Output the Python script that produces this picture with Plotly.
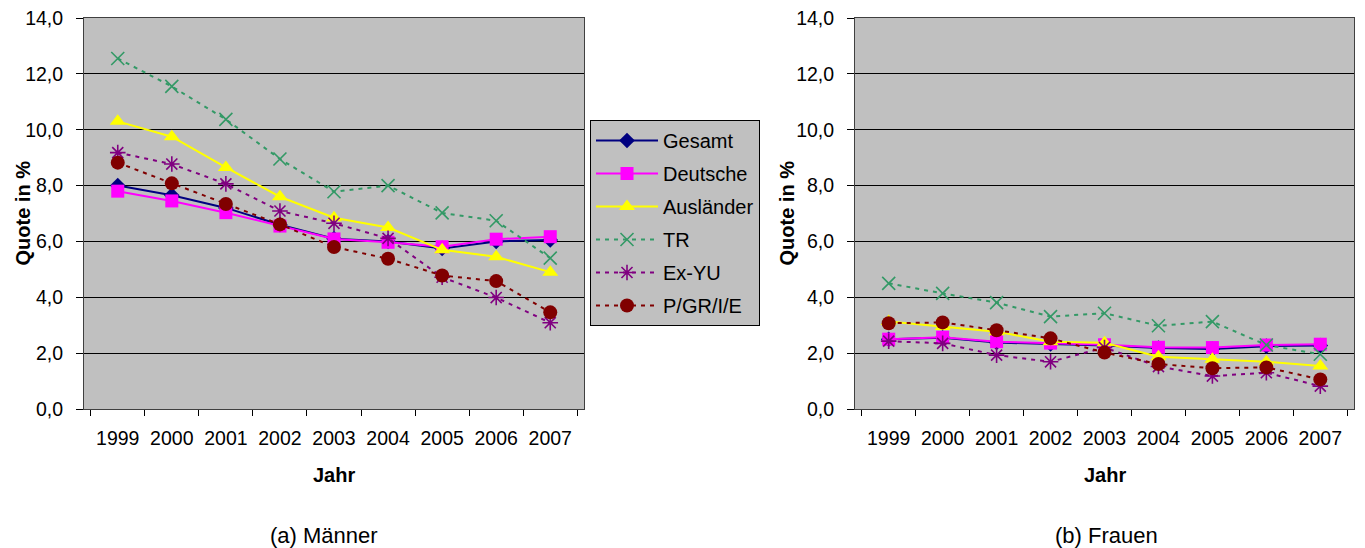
import plotly.graph_objects as go

years = ["1999", "2000", "2001", "2002", "2003", "2004", "2005", "2006", "2007"]
series_names = ["Gesamt", "Deutsche", "Ausländer", "TR", "Ex-YU", "P/GR/I/E"]

# Männer
m_gesamt = [8.0, 7.65, 7.2, 6.6, 6.1, 6.0, 5.75, 6.0, 6.05]
m_deutsche = [7.8, 7.45, 7.03, 6.55, 6.09, 5.97, 5.81, 6.08, 6.17]
m_auslaender = [10.3, 9.75, 8.65, 7.6, 6.85, 6.5, 5.7, 5.45, 4.9]
m_tr = [12.55, 11.55, 10.37, 8.95, 7.78, 8.0, 7.02, 6.74, 5.4]
m_exyu = [9.18, 8.77, 8.06, 7.09, 6.65, 6.11, 4.72, 3.99, 3.09]
m_pgrie = [8.82, 8.08, 7.34, 6.61, 5.8, 5.38, 4.78, 4.58, 3.46]

# Frauen
f_gesamt = [2.5, 2.55, 2.38, 2.33, 2.27, 2.18, 2.15, 2.25, 2.27]
f_deutsche = [2.5, 2.57, 2.41, 2.36, 2.3, 2.21, 2.2, 2.29, 2.32]
f_auslaender = [3.13, 2.95, 2.77, 2.41, 2.37, 1.87, 1.78, 1.69, 1.54]
f_tr = [4.5, 4.14, 3.81, 3.31, 3.43, 2.98, 3.13, 2.29, 1.96]
f_exyu = [2.43, 2.35, 1.93, 1.69, 2.2, 1.52, 1.18, 1.3, 0.82]
f_pgrie = [3.07, 3.1, 2.82, 2.53, 2.02, 1.61, 1.46, 1.49, 1.06]

subtitles = ["(a) Männer", "(b) Frauen"]
x_title = "Jahr"
y_title = "Quote in %"

styles = [
    dict(color="#000080", symbol="diamond", size=12, dash="solid"),
    dict(color="#FF00FF", symbol="square", size=13, dash="solid"),
    dict(color="#FFFF00", symbol="triangle-up", size=14, dash="solid"),
    dict(color="#339966", symbol="x-thin-open", size=13, dash="4px,5px"),
    dict(color="#800080", symbol="asterisk-open", size=13, dash="4px,5px"),
    dict(color="#800000", symbol="circle", size=14, dash="4px,5px"),
]

font_family = "Liberation Sans, Arial, sans-serif"
TICK_SIZE = 19.5
TITLE_SIZE = 20

fig = go.Figure()

men = [m_gesamt, m_deutsche, m_auslaender, m_tr, m_exyu, m_pgrie]
women = [f_gesamt, f_deutsche, f_auslaender, f_tr, f_exyu, f_pgrie]

for panel, (data, xa, ya) in enumerate([(men, "x", "y"), (women, "x2", "y2")]):
    for name, vals, st in zip(series_names, data, styles):
        mk = dict(symbol=st["symbol"], size=st["size"], color=st["color"])
        if st["symbol"].endswith("-open"):
            mk["line"] = dict(color=st["color"], width=1.6)
        fig.add_trace(go.Scatter(
            x=years, y=vals, name=name, mode="lines+markers",
            line=dict(color=st["color"], width=2, dash=st["dash"]),
            marker=mk, xaxis=xa, yaxis=ya,
            legendgroup=name, showlegend=(panel == 0),
        ))

# page body has an 8px margin; work in screen pixels and convert
OFF = 8
W, H = 1365 - OFF, 548 - OFF


def px(x):
    return (x - OFF) / W


def py(y):
    return 1 - (y - OFF) / H


ydom = [py(409), py(18)]
xdom1 = [px(84), px(584)]
xdom2 = [px(855), px(1354)]

xcommon = dict(type="category", tickson="boundaries", ticks="outside", ticklen=6,
               tickcolor="black", showgrid=False, showline=True, mirror=True,
               linecolor="#404040", linewidth=1, automargin=False,
               ticklabelstandoff=12, ticklabeloverflow="allow",
               tickfont=dict(size=TICK_SIZE, color="black", family=font_family))
ycommon = dict(range=[0, 14], dtick=2, tick0=0, tickformat=".1f", ticks="outside",
               ticklen=7, tickcolor="black", showgrid=True, gridcolor="black",
               gridwidth=1, zeroline=False, showline=True, mirror=True,
               linecolor="#404040", linewidth=1, ticklabelstandoff=9,
               automargin=False, ticklabeloverflow="allow",
               tickfont=dict(size=TICK_SIZE, color="black", family=font_family))

ann = []
for dom, sub, ytx, subx in [(xdom1, subtitles[0], 22, 324), (xdom2, subtitles[1], 786, 1106)]:
    xc = (dom[0] + dom[1]) / 2
    ann.append(dict(text=sub, x=px(subx), y=py(535), xref="paper", yref="paper",
                    showarrow=False, xanchor="center", yanchor="middle",
                    font=dict(size=22, color="black", family=font_family)))
    ann.append(dict(text="<b>" + x_title + "</b>", x=xc, y=py(475),
                    xref="paper", yref="paper", showarrow=False,
                    xanchor="center", yanchor="middle",
                    font=dict(size=TITLE_SIZE, color="black", family=font_family)))
    ann.append(dict(text="<b>" + y_title + "</b>", x=px(ytx),
                    y=(ydom[0] + ydom[1]) / 2, xref="paper", yref="paper",
                    showarrow=False, textangle=-90, xanchor="center", yanchor="middle",
                    font=dict(size=TITLE_SIZE, color="black", family=font_family)))

fig.update_layout(
    width=W, height=H,
    margin=dict(l=0, r=0, t=0, b=0, autoexpand=False),
    paper_bgcolor="white",
    plot_bgcolor="#C0C0C0",
    separators=",.",
    font=dict(family=font_family, color="black"),
    xaxis=dict(domain=xdom1, anchor="y", **xcommon),
    yaxis=dict(domain=ydom, anchor="x", **ycommon),
    xaxis2=dict(domain=xdom2, anchor="y2", **xcommon),
    yaxis2=dict(domain=ydom, anchor="x2", **ycommon),
    legend=dict(x=px(590), y=py(120), xanchor="left", yanchor="top",
                bgcolor="#C0C0C0", bordercolor="black", borderwidth=1,
                font=dict(size=20, color="black", family=font_family),
                traceorder="grouped", tracegroupgap=4, itemwidth=62),
    annotations=ann,
)

fig.write_html("out.html")
